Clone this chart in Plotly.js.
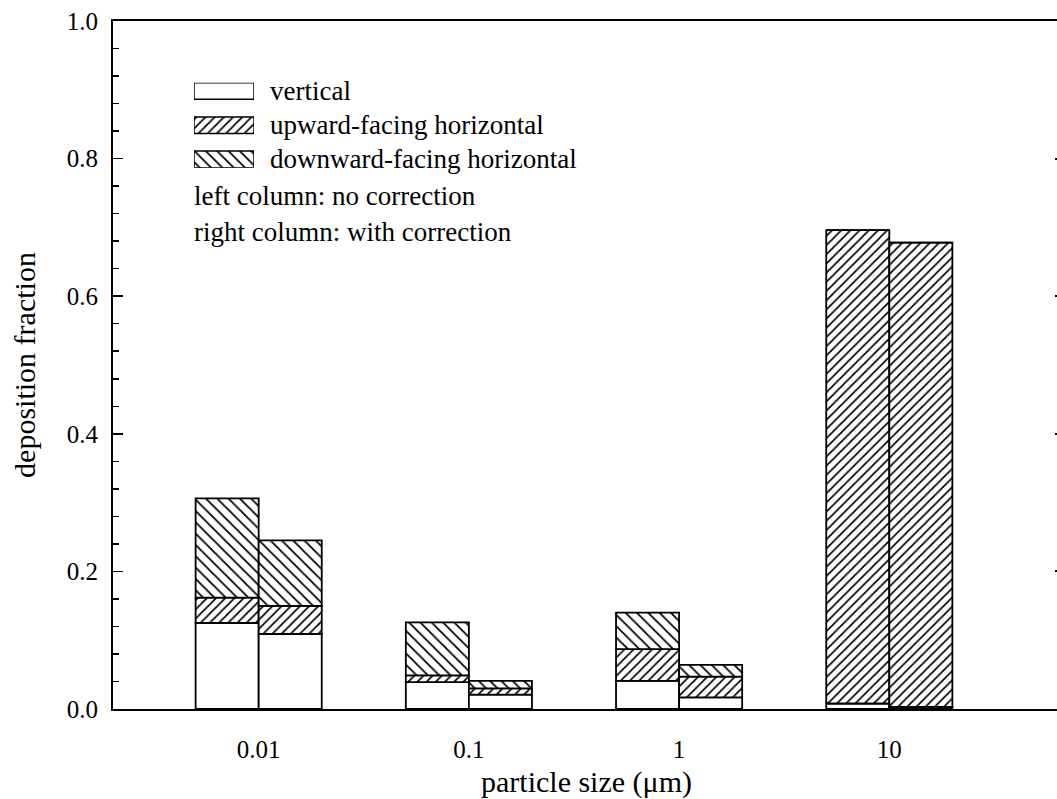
<!DOCTYPE html>
<html>
<head>
<meta charset="utf-8">
<script src="https://cdn.plot.ly/plotly-3.0.1.min.js"></script>
<style>
html, body { margin: 0; padding: 0; overflow: hidden; background: #fff; }
#chart { width: 1066px; height: 799px; }
</style>
</head>
<body>
<div id="chart"></div>
<script>
// ---- data ----
var sizes = ['0.01', '0.1', '1', '10'];
var seriesNames = ['vertical', 'upward-facing horizontal', 'downward-facing horizontal'];
var noteLines = ['left column: no correction', 'right column: with correction'];

// left column: no correction
var vertNoCorr = [0.125, 0.039, 0.041, 0.008];
var upNoCorr   = [0.037, 0.010, 0.046, 0.688];
var downNoCorr = [0.144, 0.077, 0.053, 0.000];
// right column: with correction
var vertCorr = [0.109, 0.021, 0.017, 0.003];
var upCorr   = [0.041, 0.009, 0.030, 0.675];
var downCorr = [0.095, 0.011, 0.017, 0.000];

var xTitle = 'particle size (\u03bcm)';
var yTitle = 'deposition fraction';

// ---- styles ----
var FONT = 'Liberation Serif';
var patterns = [
  {shape: '', fgcolor: '#000', bgcolor: '#fff', size: 8, solidity: 0.2},
  {shape: '/', fgcolor: '#000', bgcolor: '#fff', size: 6.5, solidity: 0.26},
  {shape: '\\', fgcolor: '#000', bgcolor: '#fff', size: 8, solidity: 0.22}
];

function addArr(a, b) { return a.map(function (v, i) { return v + b[i]; }); }
function zeros(n) { var r = []; for (var i = 0; i < n; i++) r.push(0); return r; }

var columns = [
  {parts: [vertNoCorr, upNoCorr, downNoCorr], offset: -0.3},
  {parts: [vertCorr, upCorr, downCorr], offset: 0}
];

var traces = [];
columns.forEach(function (col) {
  var base = zeros(sizes.length);
  col.parts.forEach(function (vals, k) {
    traces.push({
      type: 'bar',
      x: sizes,
      y: vals,
      base: base.slice(),
      width: 0.3,
      offset: col.offset,
      name: seriesNames[k],
      showlegend: false,
      hoverinfo: 'skip',
      marker: {
        color: '#fff',
        pattern: patterns[k],
        line: {color: '#000', width: 1.8}
      },
      xaxis: 'x', yaxis: 'y'
    });
    base = addArr(base, vals);
  });
});

// legend swatches drawn as bars on a small inset axis
traces.push({
  type: 'bar',
  orientation: 'h',
  y: seriesNames,
  x: seriesNames.map(function () { return 1; }),
  width: 0.485,
  hoverinfo: 'skip',
  showlegend: false,
  marker: {
    color: '#fff',
    pattern: {
      shape: patterns.map(function (p) { return p.shape; }),
      size: patterns.map(function (p) { return p.size; }),
      solidity: patterns.map(function (p) { return p.solidity; }),
      fgcolor: '#000', bgcolor: '#fff'
    },
    line: {color: '#000', width: 1.5}
  },
  xaxis: 'x2', yaxis: 'y3'
});

// invisible trace so the right-hand tick axis is drawn
traces.push({
  type: 'scatter', x: [sizes[0]], y: [0], mode: 'markers',
  marker: {opacity: 0}, hoverinfo: 'skip', showlegend: false,
  xaxis: 'x', yaxis: 'y2'
});

// ---- layout geometry ----
var W = 1066, H = 799;
var mL = 113, mR = 6, mT = 21, mB = 90;
var plotW = W - mL - mR, plotH = H - mT - mB;
function px2paperX(px) { return (px - mL) / plotW; }
function px2paperY(py) { return (H - mB - py) / plotH; }

var annotations = [];
var swatchCentersY = [90.7, 125, 158.8];
seriesNames.forEach(function (name, i) {
  annotations.push({
    xref: 'paper', yref: 'paper', x: px2paperX(268), y: px2paperY(swatchCentersY[i]),
    xanchor: 'left', yanchor: 'middle', text: name, showarrow: false,
    font: {family: FONT, size: 27, color: '#000'}
  });
});
var noteY = [196, 232];
noteLines.forEach(function (t, i) {
  annotations.push({
    xref: 'paper', yref: 'paper', x: px2paperX(192), y: px2paperY(noteY[i]),
    xanchor: 'left', yanchor: 'middle', text: t, showarrow: false,
    font: {family: FONT, size: 27, color: '#000'}
  });
});

var layout = {
  width: W, height: H,
  margin: {l: mL, r: mR, t: mT, b: mB, pad: 0},
  paper_bgcolor: '#fff', plot_bgcolor: '#fff',
  font: {family: FONT, size: 25, color: '#000'},
  showlegend: false,
  barmode: 'overlay',
  xaxis: {
    type: 'category',
    range: [-0.693, 3.812],
    showgrid: false, zeroline: false,
    showline: true, linecolor: '#000', linewidth: 2, mirror: true,
    ticks: '', tickfont: {family: FONT, size: 25},
    ticklabelstandoff: 17,
    title: {text: xTitle, font: {family: FONT, size: 30}, standoff: 12},
    fixedrange: true
  },
  yaxis: {
    range: [0, 1],
    dtick: 0.2, tick0: 0, tickformat: '.1f',
    showgrid: false, zeroline: false,
    showline: true, linecolor: '#000', linewidth: 2,
    ticks: 'inside', ticklen: 10, tickwidth: 1.5, tickcolor: '#000',
    minor: {dtick: 0.04, ticks: 'inside', ticklen: 6, tickwidth: 1.5, tickcolor: '#000', showgrid: false},
    tickfont: {family: FONT, size: 25},
    ticklabelstandoff: 8,
    title: {text: yTitle, font: {family: FONT, size: 30}, standoff: 22},
    fixedrange: true
  },
  yaxis2: {
    overlaying: 'y', side: 'right', anchor: 'x',
    range: [0, 1], dtick: 0.2, tick0: 0,
    showgrid: false, zeroline: false, showline: false,
    ticks: 'inside', ticklen: 5, tickwidth: 2, tickcolor: '#000',
    showticklabels: false, fixedrange: true
  },
  xaxis2: {
    domain: [px2paperX(194), px2paperX(254)],
    anchor: 'y3', range: [0, 1],
    visible: false, fixedrange: true
  },
  yaxis3: {
    domain: [px2paperY(167.7), px2paperY(82.7)],
    anchor: 'x2', type: 'category',
    categoryorder: 'array', categoryarray: seriesNames,
    range: [2.243, -0.243],
    visible: false, fixedrange: true
  },
  annotations: annotations
};

Plotly.newPlot('chart', traces, layout, {displayModeBar: false, staticPlot: true});
</script>
</body>
</html>
